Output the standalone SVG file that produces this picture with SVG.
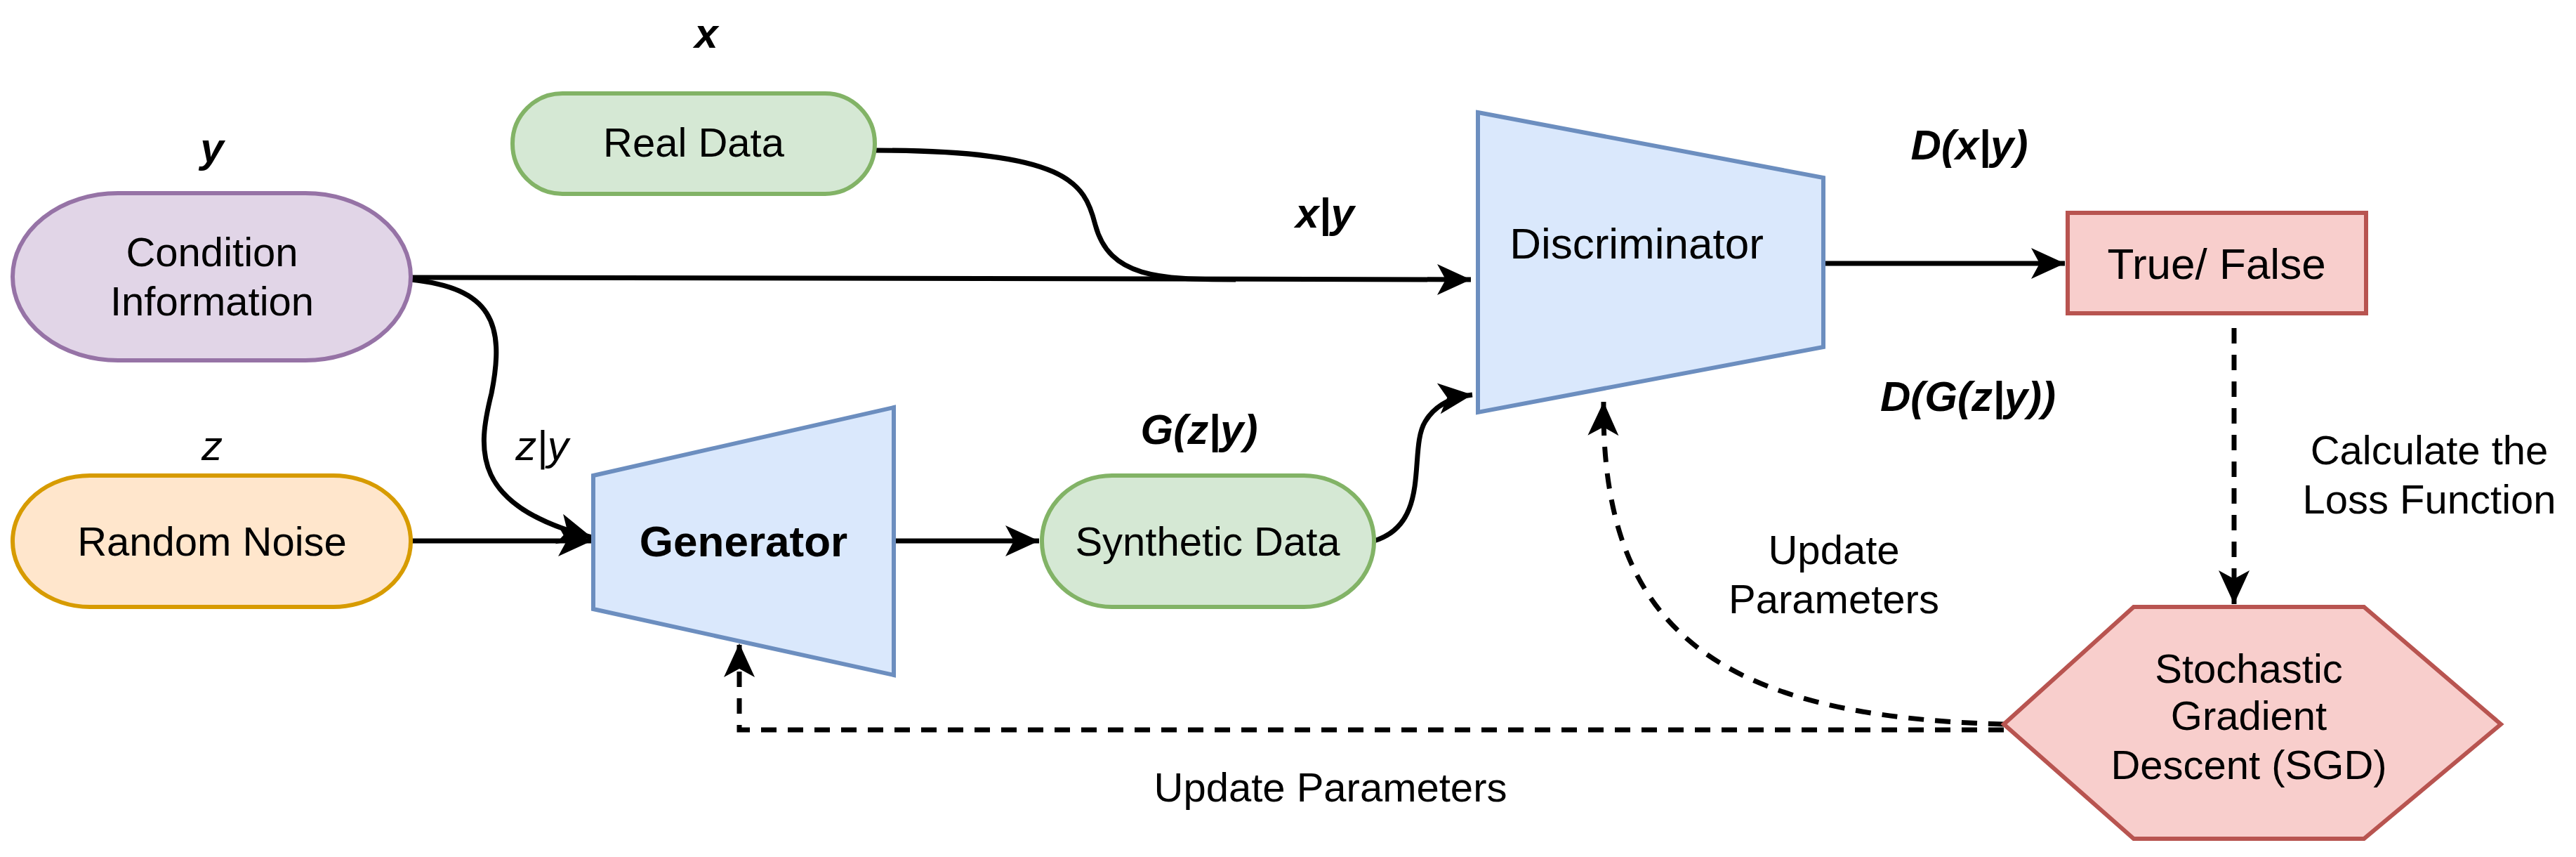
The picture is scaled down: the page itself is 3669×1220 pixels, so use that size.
<svg xmlns="http://www.w3.org/2000/svg" width="3669" height="1220" viewBox="0 0 3669 1220">
<style>
text{font-family:"Liberation Sans",Arial,sans-serif;fill:#000;text-anchor:middle;dominant-baseline:central}
.t{font-size:58px}.b{font-size:62px}
.lab{font-size:60px;font-style:italic}
.bl{font-size:60px;font-style:italic;font-weight:bold}
.c{fill:none;stroke:#000;stroke-width:7}
.d{fill:none;stroke:#000;stroke-width:7;stroke-dasharray:22 16}
</style>
<defs>
<marker id="h" viewBox="-50 -25 55 50" refX="0" refY="0" markerWidth="55" markerHeight="50" markerUnits="userSpaceOnUse" orient="auto">
<path d="M-48,-22 L0,0 L-48,22 L-36,0 Z" fill="#000"/>
</marker>
</defs>
<g id="connectors">
<path class="c" d="M1246,214 C1520,214 1545,260 1560,320 C1580,395 1650,398 1760,398" />
<path class="c" d="M585,395 L2095,398" marker-end="url(#h)"/>
<path class="c" d="M585,398 C700,410 720,460 700,560 C680,640 670,720 843,765" marker-end="url(#h)"/>
<path class="c" d="M585,770 L843,770" marker-end="url(#h)"/>
<path class="c" d="M1273,770 L1480,770" marker-end="url(#h)"/>
<path class="c" d="M1957,770 C2040,745 2005,640 2030,600 C2045,575 2070,565 2097,562" marker-end="url(#h)"/>
<path class="c" d="M2597,375 L2941,375" marker-end="url(#h)"/>
<path class="d" d="M3182,467 L3182,860" marker-end="url(#h)"/>
<path class="d" d="M2854,1031 C2450,1020 2280,900 2284,572" marker-end="url(#h)"/>
<path class="d" d="M2854,1039 L1053,1039 L1053,916" marker-end="url(#h)"/>
</g>
<g id="real-data"><rect x="730" y="133" width="516" height="143" rx="71" fill="#d5e8d4" stroke="#82b366" stroke-width="6"/><text class="t" x="988" y="202">Real Data</text></g>
<g id="condition"><rect x="18" y="275" width="567" height="238" rx="150" ry="119" fill="#e1d5e7" stroke="#9673a6" stroke-width="6"/><text class="t" x="302" y="358">Condition</text><text class="t" x="302" y="428">Information</text></g>
<g id="noise"><rect x="18" y="677" width="567" height="187" rx="110" ry="93" fill="#ffe6cc" stroke="#d79b00" stroke-width="6"/><text class="t" x="302" y="770">Random Noise</text></g>
<g id="generator"><polygon points="845,677 1273,580 1273,961 845,867" fill="#dae8fc" stroke="#6c8ebf" stroke-width="6"/><text class="b" x="1059" y="770" font-weight="bold">Generator</text></g>
<g id="synthetic"><rect x="1484" y="677" width="473" height="187" rx="100" ry="93" fill="#d5e8d4" stroke="#82b366" stroke-width="6"/><text class="t" x="1720" y="770">Synthetic Data</text></g>
<g id="discriminator"><polygon points="2105,160 2597,253 2597,494 2105,587" fill="#dae8fc" stroke="#6c8ebf" stroke-width="6"/><text class="b" x="2331" y="346">Discriminator</text></g>
<g id="truefalse"><rect x="2945" y="303" width="425" height="143" fill="#f8cecc" stroke="#b85450" stroke-width="6"/><text class="b" x="3157" y="375">True/ False</text></g>
<g id="sgd"><polygon points="3039,864 3367,864 3562,1031 3367,1194 3039,1194 2854,1031" fill="#f8cecc" stroke="#b85450" stroke-width="6"/><text class="t" x="3203" y="951">Stochastic</text><text class="t" x="3203" y="1018">Gradient</text><text class="t" x="3203" y="1088">Descent (SGD)</text></g>
<g id="labels">
<text class="bl" x="1006" y="47">x</text>
<text class="bl" x="302" y="210">y</text>
<text class="lab" x="302" y="634">z</text>
<text class="lab" x="772" y="634">z|y</text>
<text class="bl" x="1887" y="303">x|y</text>
<text class="bl" x="1708" y="611">G(z|y)</text>
<text class="bl" x="2805" y="206">D(x|y)</text>
<text class="bl" x="2803" y="564">D(G(z|y))</text>
<text class="t" x="3460" y="640">Calculate the</text>
<text class="t" x="3460" y="710">Loss Function</text>
<text class="t" x="2612" y="782">Update</text>
<text class="t" x="2612" y="852">Parameters</text>
<text class="t" x="1895" y="1120">Update Parameters</text>
</g>
</svg>
